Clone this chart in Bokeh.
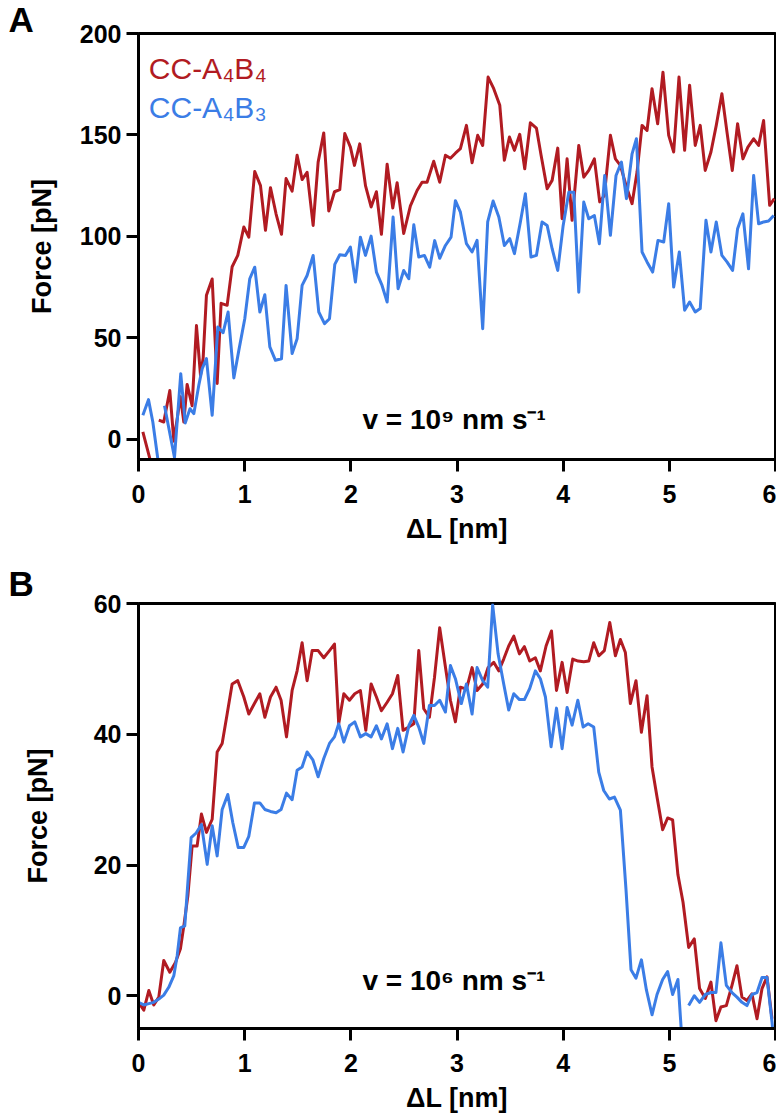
import numpy as np
from bokeh.plotting import figure
from bokeh.models import Range1d, Label, FixedTicker
from bokeh.layouts import column
from bokeh.embed import file_html
from bokeh.resources import INLINE

NAN = float("nan")

# ---------------- data ----------------
# Panel A: v = 10^9 nm/s
a_red_x = [0.041, 0.119, 0.150, 0.191, 0.238, 0.295, 0.333, 0.395, 0.427, 0.458, 0.505, 0.546, 0.584, 0.609,
           0.640, 0.694, 0.741, 0.778, 0.835, 0.882, 0.935, 0.992, 1.039, 1.095, 1.149, 1.196, 1.243, 1.296,
           1.347, 1.390, 1.447, 1.494, 1.541, 1.588, 1.645, 1.692, 1.745, 1.792, 1.846, 1.896, 1.943, 1.996,
           2.034, 2.084, 2.138, 2.191, 2.241, 2.288, 2.342, 2.395, 2.436, 2.498, 2.561, 2.624, 2.671, 2.718,
           2.781, 2.837, 2.891, 2.938, 2.985, 3.032, 3.089, 3.142, 3.195, 3.242, 3.293, 3.346, 3.403, 3.446,
           3.494, 3.541, 3.591, 3.638, 3.691, 3.748, 3.792, 3.849, 3.896, 3.949, 3.990, 4.037, 4.084, 4.147,
           4.194, 4.241, 4.294, 4.344, 4.388, 4.445, 4.492, 4.539, 4.592, 4.649, 4.696, 4.743, 4.790, 4.837,
           4.890, 4.940, 4.994, 5.041, 5.091, 5.144, 5.191, 5.244, 5.291, 5.338, 5.392, 5.442, 5.495, 5.543,
           5.593, 5.643, 5.693, 5.740, 5.794, 5.841, 5.888, 5.945, 5.989]
a_red_y = [3.6, -12, NAN, 9.4, 8.5, 24, -1, 21, 8.5, 27, 16.5, 56, 31.5, 40,
           71, 79, 27.5, 67, 66, 85, 90.6, 104.6, 99.6, 132, 125, 103, 124, 111,
           101, 128.5, 122.3, 140, 128, 131.6, 105.4, 136.6, 151, 112.5, 122, 123, 150.7, 144,
           135, 145.6, 125, 114.5, 122, 101, 135.6, 114, 126.4, 101.4, 115, 122.6, 126.7, 126.7,
           137, 126.7, 140, 138.5, 141, 143.2, 154.7, 136.3, 149.8, 144.8, 178.5, 172.8, 164.6, 137.5,
           149, 142.4, 150.3, 133.3, 156, 153.4, 140, 123.5, 127.6, 143.5, 108.7, 138.2, 107.9, 144.8,
           129.2, 132.5, 138.2, 117, 120.2, 149.8, 138.2, 135, 125.1, 116.1, 131.7, 154.7, 152.2, 172.8,
           155.5, 180.9, 149.8, 141.6, 178.5, 142.4, 174.5, 144.8, 154.7, 132.5, 141.6, 154.7, 170.3, 151.4,
           132.5, 155.5, 138.2, 144, 148.1, 144.8, 157.1, 115.3, 118.6]

a_blue_x = [0.041, 0.094, 0.135, 0.188, 0.215, 0.245, 0.339, 0.398, 0.440, 0.485, 0.521, 0.568, 0.600, 0.640,
            0.694, 0.747, 0.797, 0.844, 0.898, 0.945, 1.001, 1.048, 1.095, 1.143, 1.190, 1.237, 1.290, 1.347,
            1.390, 1.447, 1.494, 1.541, 1.588, 1.645, 1.698, 1.752, 1.799, 1.849, 1.896, 1.949, 1.996, 2.043,
            2.090, 2.138, 2.191, 2.241, 2.294, 2.342, 2.398, 2.445, 2.498, 2.546, 2.593, 2.640, 2.693, 2.743,
            2.790, 2.837, 2.891, 2.944, 2.985, 3.032, 3.089, 3.142, 3.189, 3.242, 3.289, 3.340, 3.394, 3.446,
            3.497, 3.541, 3.597, 3.644, 3.697, 3.748, 3.801, 3.849, 3.896, 3.949, 4.000, 4.053, 4.100, 4.147,
            4.194, 4.241, 4.294, 4.341, 4.391, 4.445, 4.498, 4.549, 4.596, 4.649, 4.690, 4.743, 4.790, 4.843,
            4.893, 4.947, 4.994, 5.041, 5.094, 5.144, 5.191, 5.244, 5.291, 5.345, 5.392, 5.442, 5.495, 5.543,
            5.596, 5.643, 5.693, 5.746, 5.794, 5.841, 5.888, 5.935, 5.983]
a_blue_y = [11.8, 19.5, 8.5, -12, NAN, 16.5, -9, 32.3, 8, 15, 12.6, 26.6, 34.8, 39.7,
            11.8, 55.3, 52.5, 62.7, 30.2, 43.8, 59.4, 79.1, 84.8, 62.7, 71.2, 45.5, 38.9, 39.7,
            75.8, 42.2, 49.5, 75.8, 80.7, 90.6, 62.7, 57, 59.4, 86.2, 90.9, 90.6, 94.7, 77.5,
            99.6, 90.6, 100.1, 82.4, 75.8, 67.6, 109.5, 74.2, 83.2, 79.1, 105.7, 89.8, 90.6, 84.8,
            97.9, 89.2, 95.5, 99.6, 117.6, 111.9, 96.4, 92.3, 98, 54.5, 107.1, 117.4, 109.5, 95.5,
            98.9, 91.5, 107.1, 121, 89.8, 90.6, 107.1, 105.4, 93.9, 83.2, 105.4, 121.8, 121.8, 72.5,
            116.9, 108.7, 110.3, 96.4, 130, 100.5, 130, 136.6, 118.6, 140.7, 148.1, 92.3, 87.4, 82.4,
            98, 97.2, 116.1, 75, 92.3, 63.6, 67.6, 62.7, 64.4, 107.9, 92.3, 107.1, 90.6, 87.4,
            83.2, 103.8, 111.1, 84, 130, 106.2, 107.1, 107.6, 110.3]

# Panel B: v = 10^6 nm/s
b_red_x = [0.0, 0.050, 0.097, 0.144, 0.191, 0.238, 0.295, 0.348, 0.395, 0.427, 0.465, 0.505, 0.552, 0.593,
           0.640, 0.694, 0.741, 0.788, 0.835, 0.882, 0.935, 0.992, 1.039, 1.092, 1.143, 1.190, 1.243, 1.296,
           1.343, 1.394, 1.447, 1.494, 1.541, 1.588, 1.636, 1.692, 1.745, 1.799, 1.846, 1.886, 1.934, 1.987,
           2.037, 2.090, 2.141, 2.191, 2.241, 2.288, 2.342, 2.392, 2.442, 2.492, 2.546, 2.593, 2.640, 2.687,
           2.740, 2.788, 2.837, 2.891, 2.938, 2.985, 3.032, 3.089, 3.142, 3.189, 3.242, 3.293, 3.346, 3.393,
           3.440, 3.487, 3.535, 3.588, 3.635, 3.685, 3.738, 3.785, 3.839, 3.890, 3.937, 3.990, 4.037, 4.090,
           4.141, 4.194, 4.241, 4.288, 4.335, 4.388, 4.439, 4.492, 4.539, 4.586, 4.633, 4.686, 4.737, 4.790,
           4.837, 4.884, 4.937, 4.984, 5.031, 5.081, 5.129, 5.182, 5.235, 5.285, 5.339, 5.392, 5.439, 5.486,
           5.537, 5.590, 5.637, 5.684, 5.731, 5.778, 5.826, 5.873, 5.920, 5.967]
b_red_y = [-1.0, -2.2, 0.8, -1.4, -0.2, 5.4, 3.6, 5.1, 7.2, 10.7, 15.3, 22.9, 22.9, 27.8,
           25, 27, 37.3, 38.6, 43.1, 47.7, 48.2, 45.7, 43.1, 44.7, 46.2, 42.6, 45.7, 47.2,
           45.2, 39.6, 46.7, 49.7, 54, 48.2, 52.8, 52.8, 51.7, 52.8, 53.8, 41.6, 46.2, 45.2,
           46.2, 46.7, 40.6, 47.7, 45.7, 43.6, 44.9, 46.2, 49, 40.6, 41.1, 41.6, 52.8, 43.9,
           42.6, 48.7, 56.3, 50.3, 45.2, 41.9, 47.2, 46.9, 50.2, 46.7, 47.7, 50.2, 51, 49.7,
           51.5, 53.5, 55.0, 52.3, 53.4, 51.2, 51.7, 49.7, 53.5, 55.8, 46.7, 51, 46.4, 51.5,
           51.2, 51.1, 51.2, 54, 52, 52.8, 57.1, 52, 54.5, 52.5, 44.7, 48.2, 40.3, 45.9,
           35, 30.4, 25.4, 27.2, 26.9, 18.5, 14.3, 7.4, 8.7, 1.1, -0.4, 2.1, -3.8, -1.7,
           -1.5, 1.6, 4.6, -0.2, -0.7, 0.3, -3.5, 1.1, 2.9, -3.5]

b_blue_x = [0.0, 0.050, 0.097, 0.144, 0.191, 0.238, 0.285, 0.333, 0.364, 0.395, 0.436, 0.465, 0.496, 0.543,
            0.593, 0.647, 0.694, 0.741, 0.788, 0.841, 0.888, 0.939, 0.992, 1.039, 1.092, 1.143, 1.190, 1.243,
            1.296, 1.343, 1.394, 1.447, 1.494, 1.541, 1.588, 1.642, 1.692, 1.745, 1.799, 1.846, 1.886, 1.934,
            1.987, 2.037, 2.090, 2.141, 2.191, 2.241, 2.288, 2.342, 2.392, 2.442, 2.492, 2.546, 2.593, 2.640,
            2.687, 2.740, 2.788, 2.837, 2.891, 2.938, 2.985, 3.041, 3.089, 3.142, 3.189, 3.242, 3.289, 3.336,
            3.387, 3.440, 3.487, 3.535, 3.588, 3.635, 3.685, 3.738, 3.785, 3.833, 3.886, 3.937, 3.990, 4.037,
            4.084, 4.138, 4.188, 4.235, 4.288, 4.335, 4.382, 4.435, 4.483, 4.539, 4.592, 4.639, 4.686, 4.737,
            4.784, 4.837, 4.884, 4.937, 4.984, 5.031, 5.081, 5.140, 5.160, 5.182, 5.235, 5.285, 5.339, 5.392,
            5.439, 5.486, 5.537, 5.590, 5.637, 5.684, 5.731, 5.778, 5.826, 5.873, 5.920, 5.967, 6.0]
b_blue_y = [-1.0, -1.4, -1.2, -1.0, -0.5, 0.1, 1.3, 3.1, 6.1, 10.4, 10.7, 17.3, 24.2, 24.9,
            26.2, 20.1, 26, 21.4, 28.5, 30.8, 26.5, 22.7, 22.7, 24.4, 29.5, 29.5, 28.5, 28.2,
            28, 28.5, 31, 30, 34.5, 35, 37.3, 36.1, 33.5, 36.3, 38.6, 39.6, 41.6, 38.8,
            41.3, 41.9, 39.6, 40.1, 39.6, 41.3, 39.3, 41.6, 37.8, 40.9, 37.3, 41.3, 42.9, 41.1,
            38.6, 44.4, 44.4, 45.2, 43.4, 50.5, 48.5, 44.7, 47.7, 43.1, 50.2, 48.2, 47.2, 59.8,
            52.3, 47.7, 43.7, 46.2, 45.3, 45.3, 47.0, 49.7, 48.5, 45.7, 38.1, 44, 37.8, 44.1,
            41.4, 45.2, 41.1, 41.6, 41.1, 34.2, 31.4, 30.1, 30.4, 28.4, 16.2, 4, 2.7, 5.5,
            0.9, -2.9, 0.2, 2.5, 3.7, 0.2, 2.5, -12, NAN, -1.5, 0, -1, 0.2, 0.5,
            0.5, 8.1, 1.6, 0.5, -0.2, -1, -1.5, 0.2, 0.5, 2.8, 2.8, -4, -10]

x_ticks = [0, 1, 2, 3, 4, 5, 6]
a_y_ticks = [0, 50, 100, 150, 200]
b_y_ticks = [0, 20, 40, 60]
series_names = ["CC-A\u2084B\u2084", "CC-A\u2084B\u2083"]
speed_labels = ["v = 10\u2079 nm s\u207b\u00b9", "v = 10\u2076 nm s\u207b\u00b9"]
panel_letters = ["A", "B"]

RED = "#B11B22"
BLUE = "#3B7DE6"
FONT = "Liberation Sans"


def make_fig(height, top, bottom, yr, yticks, standoff, letter, title_standoff):
    p = figure(width=776, height=height, x_range=Range1d(0, 6), y_range=Range1d(*yr),
               output_backend="svg", toolbar_location=None,
               min_border_left=138, min_border_right=1, min_border_top=top, min_border_bottom=bottom)
    p.xgrid.visible = False
    p.ygrid.visible = False
    p.outline_line_color = "black"
    p.outline_line_width = 3
    p.outline_line_alpha = 1
    p.background_fill_color = "white"
    p.border_fill_color = "white"
    # panel letter as the plot title, pulled to the far left
    p.title.text = letter
    p.title.align = "left"
    p.title.offset = -130
    p.title.standoff = title_standoff
    p.title.text_font = FONT
    p.title.text_font_style = "bold"
    p.title.text_font_size = "35px"
    p.title.text_color = "black"
    for ax in (p.xaxis[0], p.yaxis[0]):
        ax.axis_line_width = 3
        ax.axis_line_color = "black"
        ax.major_tick_line_width = 3
        ax.major_tick_line_color = "black"
        ax.major_tick_in = 0
        ax.major_tick_out = 12
        ax.minor_tick_line_color = None
        ax.major_label_text_font = FONT
        ax.major_label_text_font_style = "bold"
        ax.major_label_text_font_size = "25px"
        ax.major_label_text_color = "black"
        ax.axis_label_text_font = FONT
        ax.axis_label_text_font_style = "bold"
        ax.axis_label_text_font_size = "27px"
        ax.axis_label_text_color = "black"
    p.xaxis[0].major_label_standoff = 13
    p.yaxis[0].major_label_standoff = 5
    p.xaxis[0].ticker = FixedTicker(ticks=x_ticks)
    p.yaxis[0].ticker = FixedTicker(ticks=yticks)
    p.xaxis[0].axis_label = "\u0394L [nm]"
    p.yaxis[0].axis_label = "Force [pN]"
    p.xaxis[0].axis_label_standoff = 8
    p.yaxis[0].axis_label_standoff = standoff
    return p


# ---------- Panel A ----------
pA = make_fig(556, 33, 97, (-10, 200), a_y_ticks, 20, panel_letters[0], -10)
pA.line(a_red_x, a_red_y, line_color=RED, line_width=3, line_join="round")
pA.line(a_blue_x, a_blue_y, line_color=BLUE, line_width=3, line_join="round")
pA.add_layout(Label(x=0.097, y=182.6, text=series_names[0], text_color=RED, text_font=FONT,
                    text_font_size="30px", text_baseline="alphabetic"))
pA.add_layout(Label(x=0.097, y=163.7, text=series_names[1], text_color=BLUE, text_font=FONT,
                    text_font_size="30px", text_baseline="alphabetic"))
pA.add_layout(Label(x=2.109, y=9.7, text=speed_labels[0], text_color="black", text_font=FONT,
                    text_font_style="bold", text_font_size="28px", text_baseline="alphabetic"))

# ---------- Panel B ----------
pB = make_fig(559, 47, 86, (-5, 60), b_y_ticks, 38, panel_letters[1], 2)
pB.line(b_red_x, b_red_y, line_color=RED, line_width=3, line_join="round")
pB.line(b_blue_x, b_blue_y, line_color=BLUE, line_width=3, line_join="round")
pB.add_layout(Label(x=2.109, y=2.3, text=speed_labels[1], text_color="black", text_font=FONT,
                    text_font_style="bold", text_font_size="28px", text_baseline="alphabetic"))

layout = column(pA, pB)
open("out.html", "w").write(file_html(layout, INLINE))
